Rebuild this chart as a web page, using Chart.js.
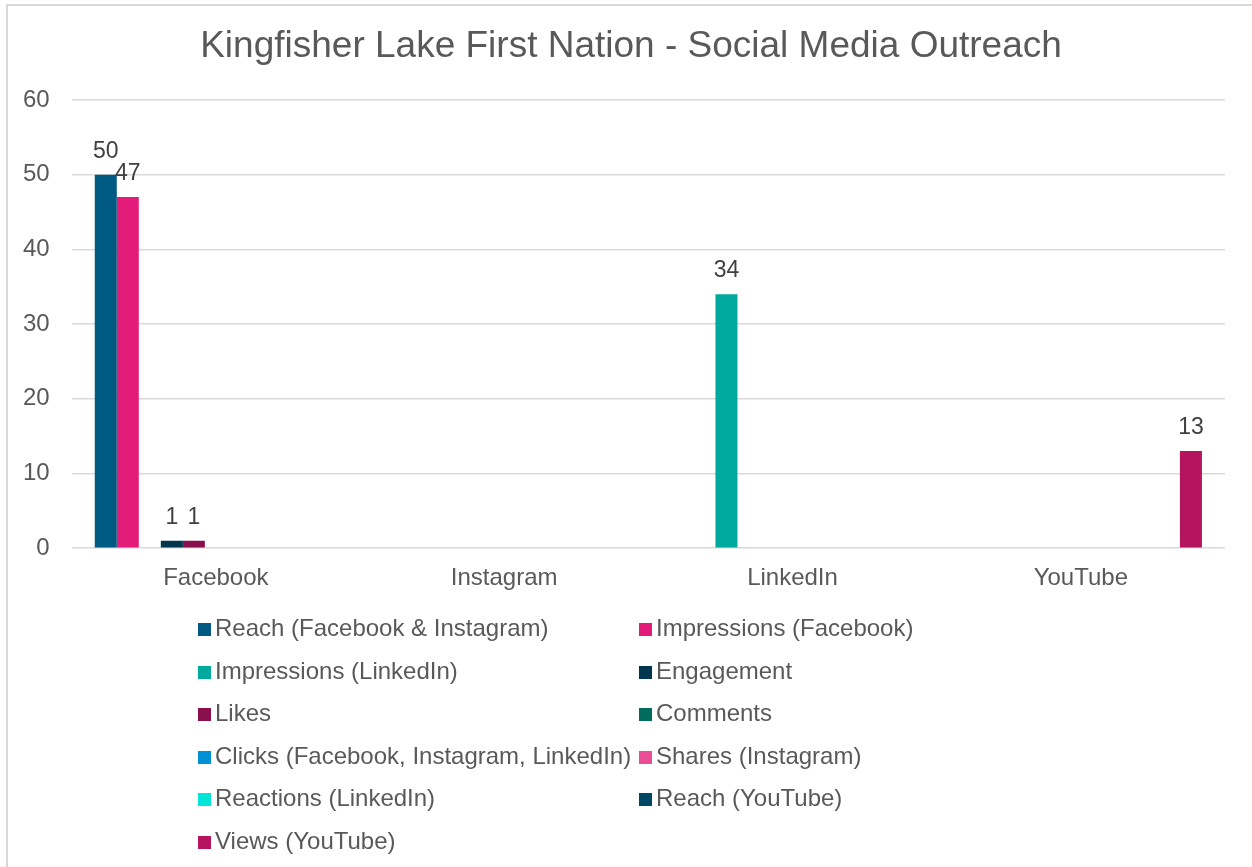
<!DOCTYPE html>
<html>
<head>
<meta charset="utf-8">
<script src="https://cdn.jsdelivr.net/npm/chart.js@4.4.0/dist/chart.umd.min.js"></script>
<style>
  html, body { margin: 0; padding: 0; background: #fff; }
  #wrap { position: relative; width: 1252px; height: 867px; overflow: hidden; }
  #frame { position: absolute; left: 6px; top: 4px; right: -10px; bottom: -10px;
           border-left: 2px solid #d9d9d9; border-top: 2px solid #d9d9d9; }
  #grafico { position: absolute; left: 0; top: 0; }
  #leyenda { position: absolute; left: 198px; top: 607px;
             display: grid; grid-template-columns: 441px auto; row-gap: 0;
             font-family: "Liberation Sans", Arial, sans-serif; font-size: 24px; color: #595959; }
  #leyenda div { height: 42.5px; line-height: 42.5px; white-space: nowrap; }
  #leyenda span.box { display: inline-block; width: 13px; height: 13px; margin-right: 4px; vertical-align: 0px; }
</style>
</head>
<body>
<div id="wrap">
  <div id="frame"></div>
  <canvas id="grafico" width="1252" height="867"></canvas>
  <div id="leyenda"></div>
</div>
<script>
const titulo = 'Kingfisher Lake First Nation - Social Media Outreach';

const categorias = ['Facebook', 'Instagram', 'LinkedIn', 'YouTube'];

const series = [
  'Reach (Facebook & Instagram)',
  'Impressions (Facebook)',
  'Impressions (LinkedIn)',
  'Engagement',
  'Likes',
  'Comments',
  'Clicks (Facebook, Instagram, LinkedIn)',
  'Shares (Instagram)',
  'Reactions (LinkedIn)',
  'Reach (YouTube)',
  'Views (YouTube)'
];

// valores por serie, en el orden de las categorias
const reachFbIg      = [50, 0, 0, 0];
const impresionesFb  = [47, 0, 0, 0];
const impresionesLi  = [0, 0, 34, 0];
const engagement     = [1, 0, 0, 0];
const likes          = [1, 0, 0, 0];
const comments       = [0, 0, 0, 0];
const clicks         = [0, 0, 0, 0];
const shares         = [0, 0, 0, 0];
const reactions      = [0, 0, 0, 0];
const reachYt        = [0, 0, 0, 0];
const viewsYt        = [0, 0, 0, 13];

const valores = [reachFbIg, impresionesFb, impresionesLi, engagement, likes, comments,
                 clicks, shares, reactions, reachYt, viewsYt];

const colores = ['#005a82', '#e31c79', '#00a99d', '#00354f', '#8a0f4d', '#006b5f',
                 '#0090d5', '#e94e96', '#00e5d8', '#004766', '#b5145f'];

const ticksY = [0, 10, 20, 30, 40, 50, 60];

const fuente = '"Liberation Sans", Arial, sans-serif';

// titulo centrado sobre todo el grafico (no solo el area del plot)
const tituloPlugin = {
  id: 'tituloPlugin',
  afterDraw(chart) {
    const c = chart.ctx;
    c.save();
    c.font = '37px ' + fuente;
    c.fillStyle = '#595959';
    c.textAlign = 'center';
    c.textBaseline = 'middle';
    c.fillText(titulo, 631, 47);
    c.restore();
  }
};

// etiquetas de valor encima de cada barra (solo valores > 0)
const etiquetas = {
  id: 'etiquetas',
  afterDatasetsDraw(chart) {
    const c = chart.ctx;
    c.save();
    c.font = '23px ' + fuente;
    c.fillStyle = '#404040';
    c.textAlign = 'center';
    c.textBaseline = 'alphabetic';
    chart.data.datasets.forEach((ds, i) => {
      chart.getDatasetMeta(i).data.forEach((bar, j) => {
        const v = ds.data[j];
        if (v > 0) c.fillText(String(v), bar.x, bar.y - 17);
      });
    });
    c.restore();
  }
};

const chart = new Chart(document.getElementById('grafico'), {
  type: 'bar',
  data: {
    labels: categorias,
    datasets: series.map((s, i) => ({
      label: s,
      data: valores[i],
      backgroundColor: colores[i],
      borderWidth: 0,
      categoryPercentage: 0.84,
      barPercentage: 1.0
    }))
  },
  options: {
    responsive: false,
    animation: false,
    layout: { padding: { left: 1, right: 27, top: 100, bottom: 258 } },
    plugins: {
      legend: { display: false },
      tooltip: { enabled: false },
      title: { display: false }
    },
    scales: {
      x: {
        grid: { display: false, drawTicks: false },
        border: { display: false },
        ticks: { color: '#595959', font: { family: fuente, size: 24 }, padding: 16 }
      },
      y: {
        min: 0,
        max: 60,
        afterBuildTicks: axis => { axis.ticks = ticksY.map(v => ({ value: v })); },
        grid: { color: '#d9d9d9', lineWidth: 1.5, drawTicks: false },
        border: { display: false },
        ticks: { color: '#595959', font: { family: fuente, size: 24 }, padding: 22 }
      }
    }
  },
  plugins: [etiquetas, tituloPlugin]
});

// leyenda en dos columnas, construida desde los datasets
const leyenda = document.getElementById('leyenda');
chart.data.datasets.forEach(ds => {
  const d = document.createElement('div');
  d.innerHTML = '<span class="box" style="background:' + ds.backgroundColor + '"></span>' + ds.label.replace(/&/g, '&amp;');
  leyenda.appendChild(d);
});
</script>
</body>
</html>
